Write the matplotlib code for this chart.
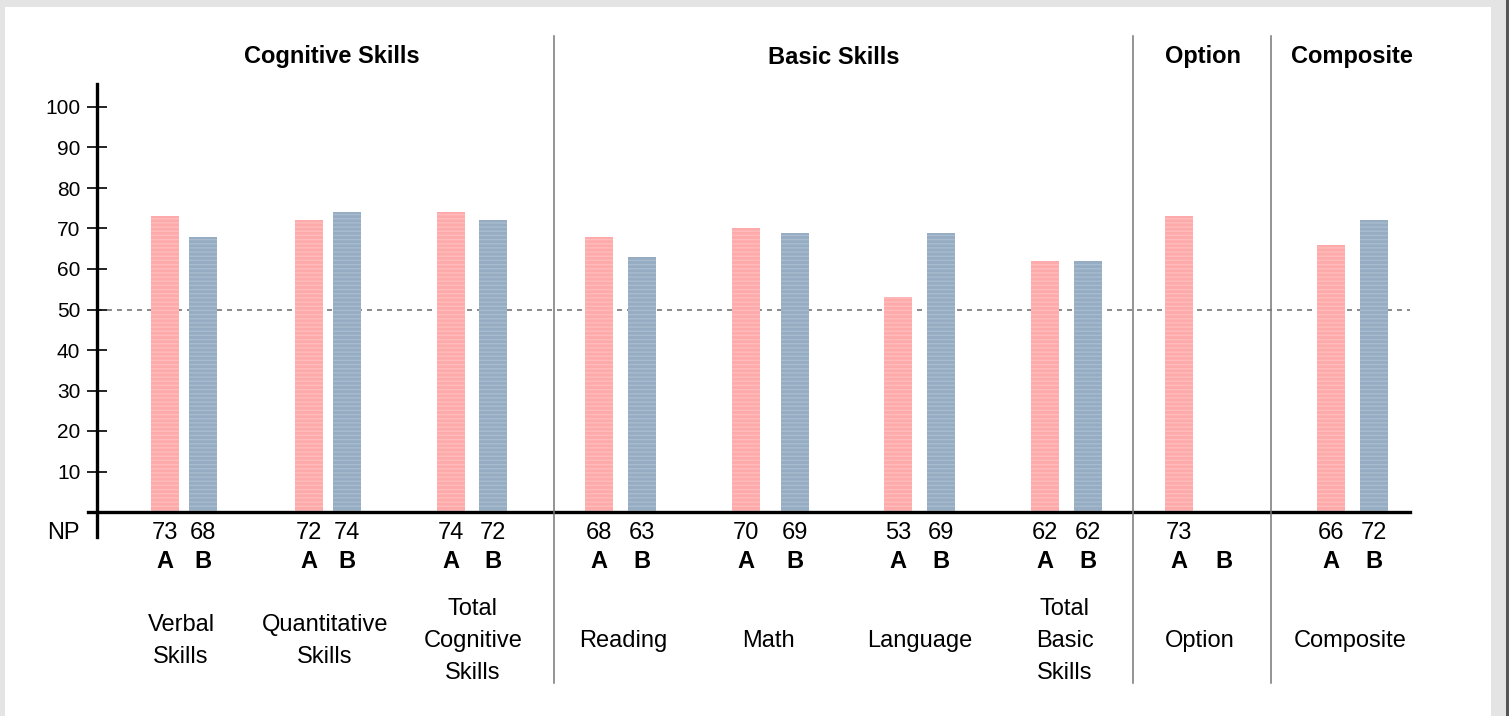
import matplotlib.pyplot as plt
from matplotlib.patches import Rectangle
from matplotlib.transforms import blended_transform_factory

plt.rcParams['font.family'] = ['Liberation Sans', 'DejaVu Sans']

# data
categories = ["Verbal\nSkills", "Quantitative\nSkills", "Total\nCognitive\nSkills",
              "Reading", "Math", "Language", "Total\nBasic\nSkills", "Option", "Composite"]
np_a = [73, 72, 74, 68, 70, 53, 62, 73, 66]
np_b = [68, 74, 72, 63, 69, 69, 62, None, 72]
sections = ["Cognitive Skills", "Basic Skills", "Option", "Composite"]
y_ticks = [10, 20, 30, 40, 50, 60, 70, 80, 90, 100]

# layout (x in pixel-like units of the axes)
x_a = [165, 309, 451, 599, 746, 898, 1045, 1179, 1331]
x_b = [203, 347, 493, 642, 795, 941, 1088, 1224, 1374]
x_cat = [181, 325, 473, 623, 768, 920, 1065, 1200, 1350]
x_sec = [332, 834, 1203, 1352]
x_sep = [554, 1133, 1271]
bar_w = 28

W, H = 1509, 716
fig = plt.figure(figsize=(W / 100, H / 100), dpi=100)
fig.patch.set_facecolor('#e4e4e4')
fig.patches.append(Rectangle((5 / W, 0), (1491 - 5) / W, 1 - 7 / H,
                             transform=fig.transFigure, facecolor='white',
                             edgecolor='none', zorder=-2))
fig.patches.append(Rectangle((1506 / W, 0), 3 / W, 1,
                             transform=fig.transFigure, facecolor='#555555',
                             edgecolor='none', zorder=-2))

def fy(py):
    return 1 - py / H

x0, x1 = 97, 1410
ax = fig.add_axes([x0 / W, fy(512), (x1 - x0) / W, (512 - 84) / H])
ax.set_xlim(x0, x1)
ymax = (512 - 84) / 4.05
ax.set_ylim(0, ymax)
ax.patch.set_alpha(0)

pink, blue = '#ffaaaa', '#95acc2'
for xa, xb, a, b in zip(x_a, x_b, np_a, np_b):
    ax.bar(xa, a, width=bar_w, color=pink, edgecolor='#ffbcbc', hatch='----',
           linewidth=0, zorder=2)
    if b is not None:
        ax.bar(xb, b, width=bar_w, color=blue, edgecolor='#a9bccf', hatch='----',
               linewidth=0, zorder=2)

ax.axhline(50, color='#777777', lw=1.2, ls=(0, (3, 3)), zorder=1)

for s in ['top', 'right', 'bottom', 'left']:
    ax.spines[s].set_visible(False)
ax.set_xticks([])
ax.set_yticks(y_ticks)
ax.tick_params(axis='y', direction='inout', length=14, width=1.2, color='black',
               labelsize=15, pad=5)

# axis lines
fig.add_artist(plt.Line2D([x0 / W, x0 / W], [fy(84), fy(537)], color='black', lw=2.4,
                          transform=fig.transFigure))
fig.add_artist(plt.Line2D([88 / W, x1 / W], [fy(512), fy(512)], color='black', lw=2.4,
                          transform=fig.transFigure))

# section separators
for xs in x_sep:
    fig.add_artist(plt.Line2D([xs / W, xs / W], [fy(36), fy(683)], color='#777777',
                              lw=1.1, transform=fig.transFigure))

fs = 17
tr = blended_transform_factory(ax.transData, fig.transFigure)
fig.text(80 / W, fy(533), "NP", ha='right', va='center', fontsize=fs)
for xa, xb, a, b, cat, xc in zip(x_a, x_b, np_a, np_b, categories, x_cat):
    ax.text(xa, fy(533), str(a), transform=tr, ha='center', va='center', fontsize=fs)
    if b is not None:
        ax.text(xb, fy(533), str(b), transform=tr, ha='center', va='center', fontsize=fs)
    ax.text(xa, fy(561), "A", transform=tr, ha='center', va='center', fontsize=fs,
            fontweight='bold')
    ax.text(xb, fy(561), "B", transform=tr, ha='center', va='center', fontsize=fs,
            fontweight='bold')
    ax.text(xc, fy(641), cat, transform=tr, ha='center', va='center', fontsize=fs,
            linespacing=1.59)

for xs, name in zip(x_sec, sections):
    ax.text(xs, fy(57), name, transform=tr, ha='center', va='center', fontsize=fs,
            fontweight='bold')

fig.savefig('out.png', dpi=100)
